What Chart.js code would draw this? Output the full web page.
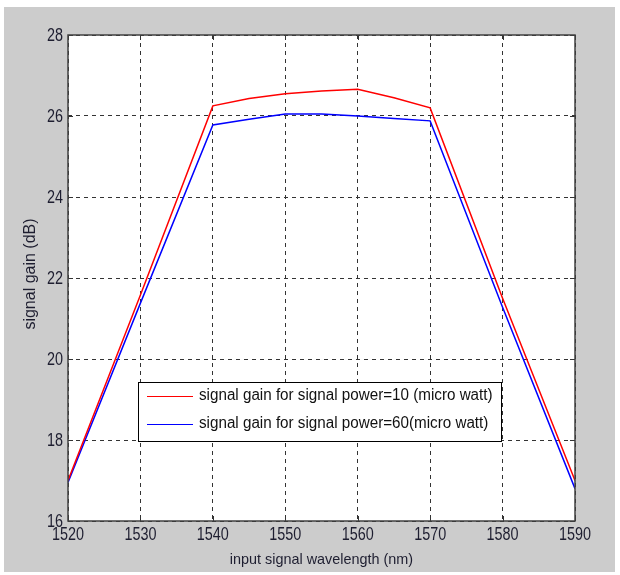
<!DOCTYPE html>
<html>
<head>
<meta charset="utf-8">
<script src="https://cdn.jsdelivr.net/npm/chart.js@4.4.0/dist/chart.umd.min.js"></script>
<style>
  html, body { margin: 0; padding: 0; background: #fff; }
  canvas { display: block; }
</style>
</head>
<body>
<canvas id="gainChart" width="620" height="575"></canvas>
<script>
// Wavelengths (nm) and gain (dB)
const wavelengths = [1520, 1530, 1540, 1545, 1550, 1555, 1560, 1565, 1570, 1580, 1590];
const gain10uW = [17.0, 21.58, 26.25, 26.43, 26.55, 26.62, 26.66, 26.45, 26.2, 21.5, 17.0];
const gain60uW = [16.95, 21.38, 25.78, 25.92, 26.05, 26.05, 26.0, 25.94, 25.88, 21.28, 16.8];
const xTicks = [1520, 1530, 1540, 1550, 1560, 1570, 1580, 1590];
const yTicks = [16, 18, 20, 22, 24, 26, 28];
const seriesLabels = [
    'signal gain for signal power=10 (micro watt)',
    'signal gain for signal power=60(micro watt)'
];

const fontFamily = '"Liberation Sans", Arial, sans-serif';
const textColor = '#1e1e30';

const toPoints = (ys) => wavelengths.map((x, i) => ({ x, y: ys[i] }));

// draw text squeezed horizontally (the original uses a narrow Helvetica)
const narrowText = (ctx, text, x, y, squeeze, align) => {
    ctx.save();
    ctx.translate(x, y);
    ctx.scale(squeeze, 1);
    ctx.textAlign = align;
    ctx.fillText(text, 0, 0);
    ctx.restore();
};

// Gray figure background + white axes area
const backgroundPlugin = {
    id: 'matlabBackground',
    beforeDraw(chart) {
        const { ctx, chartArea } = chart;
        ctx.save();
        ctx.fillStyle = '#ffffff';
        ctx.fillRect(0, 0, chart.width, chart.height);
        ctx.fillStyle = '#cccccc';
        ctx.fillRect(4, 7, 611, 565);
        ctx.fillStyle = '#ffffff';
        ctx.fillRect(chartArea.left, chartArea.top, chartArea.right - chartArea.left, chartArea.bottom - chartArea.top);
        ctx.restore();
    }
};

// Axes box, inward ticks, tick labels, titles and legend
const framePlugin = {
    id: 'matlabFrame',
    afterDraw(chart) {
        const { ctx, chartArea: a, scales } = chart;
        ctx.save();

        // inward tick marks on all four sides
        ctx.strokeStyle = '#333';
        ctx.lineWidth = 1;
        xTicks.forEach(v => {
            const px = Math.round(scales.x.getPixelForValue(v)) + 0.5;
            ctx.beginPath();
            ctx.moveTo(px, a.bottom); ctx.lineTo(px, a.bottom - 5);
            ctx.moveTo(px, a.top); ctx.lineTo(px, a.top + 5);
            ctx.stroke();
        });
        yTicks.forEach(v => {
            const py = Math.round(scales.y.getPixelForValue(v)) + 0.5;
            ctx.beginPath();
            ctx.moveTo(a.left, py); ctx.lineTo(a.left + 5, py);
            ctx.moveTo(a.right, py); ctx.lineTo(a.right - 5, py);
            ctx.stroke();
        });

        ctx.strokeStyle = '#404040';
        ctx.lineWidth = 1.5;
        ctx.strokeRect(a.left, a.top, a.right - a.left, a.bottom - a.top);

        // tick labels
        ctx.fillStyle = textColor;
        ctx.font = '18px ' + fontFamily;
        ctx.textBaseline = 'middle';
        xTicks.forEach(v => {
            narrowText(ctx, String(v), scales.x.getPixelForValue(v), a.bottom + 14, 0.8, 'center');
        });
        yTicks.forEach(v => {
            narrowText(ctx, String(v), a.left - 5, scales.y.getPixelForValue(v) + 1, 0.8, 'right');
        });

        // axis titles
        ctx.font = '15px ' + fontFamily;
        narrowText(ctx, 'input signal wavelength (nm)', (a.left + a.right) / 2, 560, 0.96, 'center');
        ctx.save();
        ctx.font = '16px ' + fontFamily;
        ctx.translate(31, 274);
        ctx.rotate(-Math.PI / 2);
        ctx.textAlign = 'center';
        ctx.fillText('signal gain (dB)', 0, 0);
        ctx.restore();

        // legend box
        const box = { x: 138, y: 382, w: 363, h: 59 };
        ctx.fillStyle = '#ffffff';
        ctx.fillRect(box.x, box.y, box.w, box.h);
        ctx.strokeStyle = '#000';
        ctx.lineWidth = 1;
        ctx.strokeRect(box.x + 0.5, box.y + 0.5, box.w, box.h);
        const colors = ['#ff0000', '#0000ff'];
        const rows = [396, 424];
        ctx.font = '16px ' + fontFamily;
        rows.forEach((ry, i) => {
            ctx.strokeStyle = colors[i];
            ctx.beginPath();
            ctx.moveTo(147, ry + 0.5); ctx.lineTo(193, ry + 0.5);
            ctx.stroke();
            ctx.fillStyle = '#111';
            narrowText(ctx, seriesLabels[i], 199, ry, 0.95, 'left');
        });

        ctx.restore();
    }
};

new Chart(document.getElementById('gainChart').getContext('2d'), {
    type: 'line',
    data: {
        datasets: [
            {
                label: seriesLabels[0],
                data: toPoints(gain10uW),
                borderColor: '#ff0000',
                borderWidth: 1.5,
                pointRadius: 0,
                tension: 0
            },
            {
                label: seriesLabels[1],
                data: toPoints(gain60uW),
                borderColor: '#0000ff',
                borderWidth: 1.5,
                pointRadius: 0,
                tension: 0
            }
        ]
    },
    options: {
        responsive: false,
        animation: false,
        layout: { padding: { top: 35, right: 45, left: 0, bottom: 0 } },
        plugins: {
            legend: { display: false },
            tooltip: { enabled: false }
        },
        scales: {
            x: {
                type: 'linear',
                min: 1520,
                max: 1590,
                afterFit: (scale) => { scale.height = 54; },
                afterBuildTicks: (scale) => { scale.ticks = xTicks.map(v => ({ value: v })); },
                ticks: { display: false },
                grid: { color: '#333', lineWidth: 1, drawTicks: false },
                border: { display: false, dash: [4, 4] }
            },
            y: {
                min: 16,
                max: 28,
                afterFit: (scale) => { scale.width = 68; },
                afterBuildTicks: (scale) => { scale.ticks = yTicks.map(v => ({ value: v })); },
                ticks: { display: false },
                grid: { color: '#333', lineWidth: 1, drawTicks: false },
                border: { display: false, dash: [4, 4] }
            }
        }
    },
    plugins: [backgroundPlugin, framePlugin]
});
</script>
</body>
</html>
